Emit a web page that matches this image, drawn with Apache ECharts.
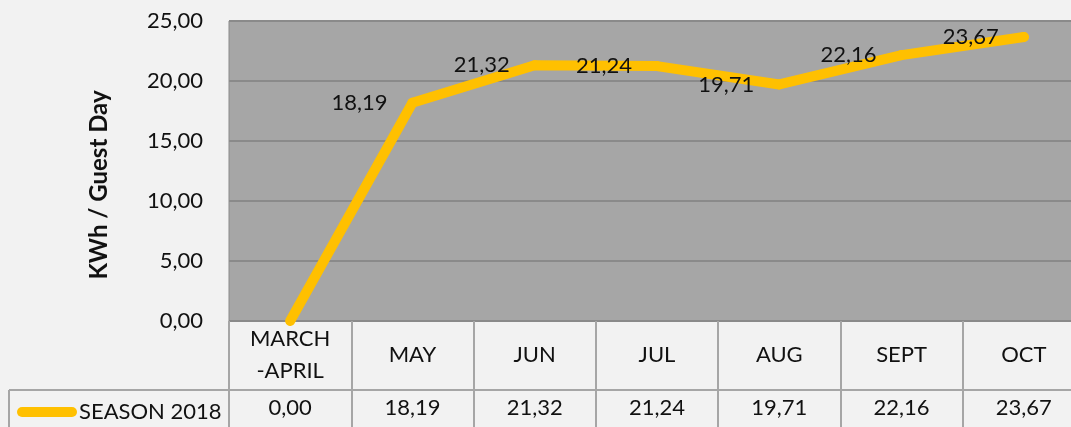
<!DOCTYPE html>
<html>
<head>
<meta charset="utf-8">
<script src="https://cdn.jsdelivr.net/npm/echarts@6/dist/echarts.min.js"></script>
<style>
  html, body { margin: 0; padding: 0; background: #f2f2f2; }
  #chart { width: 1071px; height: 427px; }
</style>
</head>
<body>
<div id="chart"></div>
<script>
// data
const categories = ['MARCH\n-APRIL', 'MAY', 'JUN', 'JUL', 'AUG', 'SEPT', 'OCT']
const season2018 = [0.00, 18.19, 21.32, 21.24, 19.71, 22.16, 23.67]
const seriesName = 'SEASON 2018'
const yTicks = [0, 5, 10, 15, 20, 25]

const FONT = 'Lato, "Open Sans", sans-serif'
const fmt = v => v.toFixed(2).replace('.', ',')

const chart = echarts.init(document.getElementById('chart'))

const option = {
  backgroundColor: '#f2f2f2',
  animation: false,
  textStyle: { fontFamily: FONT },
  grid: {
    left: 229, top: 21, width: 856, height: 300,
    show: true, backgroundColor: '#a6a6a6', borderColor: '#8a8a8a', borderWidth: 1,
    containLabel: false, outerBoundsMode: 'none'
  },
  legend: {
    left: 12, top: 396,
    itemWidth: 60, itemHeight: 10, itemGap: 5,
    icon: 'path://M5,0 H55 A5,5 0 0 1 55,10 H5 A5,5 0 0 1 5,0 Z',
    textStyle: { fontSize: 22, color: '#111', fontFamily: FONT, padding: [0, 0, 0, -3] },
    data: [seriesName]
  },
  xAxis: [{
    type: 'category',
    data: categories,
    boundaryGap: true,
    axisLine: { lineStyle: { color: '#8a8a8a', width: 1 } },
    axisTick: { show: true, interval: 0, length: 110, lineStyle: { color: '#a6a6a6', width: 2 } },
    axisLabel: {
      interval: 0, margin: 34, verticalAlign: 'middle', lineHeight: 32,
      fontSize: 22, color: '#111', fontFamily: FONT
    }
  }, {
    type: 'category',
    data: categories,
    position: 'bottom',
    boundaryGap: true,
    axisLine: { show: false },
    axisTick: { show: false },
    axisLabel: {
      interval: 0, margin: 87, verticalAlign: 'middle',
      fontSize: 22, color: '#111', fontFamily: FONT,
      formatter: (v, i) => fmt(season2018[i])
    }
  }],
  yAxis: {
    type: 'value',
    min: yTicks[0], max: yTicks[yTicks.length - 1], interval: 5,
    name: 'KWh / Guest Day',
    nameLocation: 'middle',
    nameGap: 118,
    nameTextStyle: { fontSize: 24, fontWeight: 'bold', color: '#111', fontFamily: FONT, padding: [0, 28, 0, 0] },
    axisLine: { show: false },
    axisTick: { show: false },
    splitLine: { lineStyle: { color: '#8a8a8a', width: 2 } },
    axisLabel: { margin: 26, fontSize: 22, color: '#111', fontFamily: FONT, formatter: v => fmt(v) }
  },
  series: [{
    name: seriesName,
    type: 'line',
    data: season2018,
    color: '#ffc000',
    symbol: 'circle',
    symbolSize: v => (v > 0 ? 10 : 0),
    lineStyle: { width: 10, color: '#ffc000', cap: 'round', join: 'round' },
    itemStyle: { color: '#ffc000' },
    label: {
      show: true, position: 'left', distance: 20,
      fontSize: 22, color: '#111', fontFamily: FONT,
      formatter: p => (p.value > 0 ? fmt(p.value) : '')
    },
    clip: true
  }],
  // table rule under the header row and the legend cell's left edge
  graphic: [
    { type: 'line', shape: { x1: 9, y1: 390, x2: 1085, y2: 390 }, style: { stroke: '#a6a6a6', lineWidth: 2 } },
    { type: 'line', shape: { x1: 9, y1: 390, x2: 9, y2: 427 }, style: { stroke: '#a6a6a6', lineWidth: 2 } }
  ]
}

chart.setOption(option)
</script>
</body>
</html>
